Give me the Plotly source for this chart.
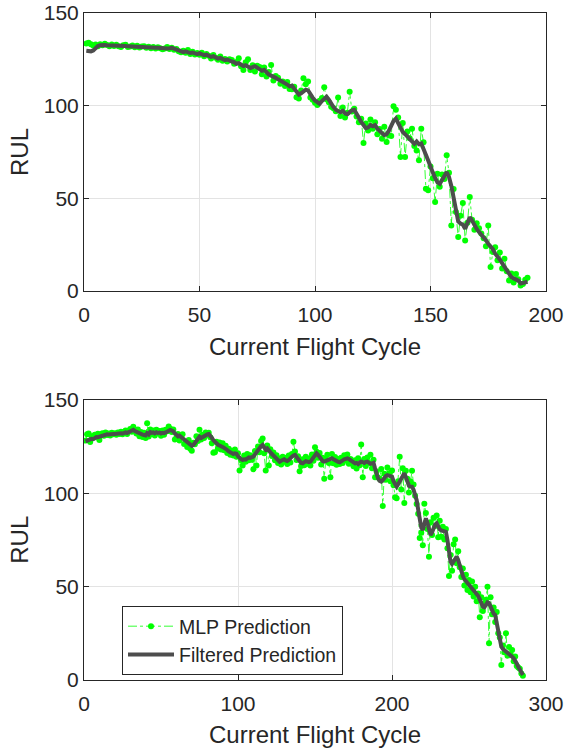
import plotly.graph_objects as go

# ---------------- Data: top panel ----------------
top_filtered = [
    129.6, 129.4, 129.3, 129.8, 131.0, 132.2, 132.6, 132.8, 132.7, 132.6,
    132.6, 132.5, 132.4, 132.5, 132.3, 132.2, 132.1, 132.2, 132.0, 131.9,
    131.9, 131.8, 131.9, 131.7, 131.6, 131.7, 131.5, 131.4, 131.5, 131.3,
    131.2, 131.3, 131.1, 130.8, 130.6, 130.9, 131.0, 131.2, 130.8, 130.3,
    129.8, 129.2, 128.9, 129.3, 129.0, 128.4, 128.7, 128.2, 127.8, 128.3,
    127.9, 127.2, 127.5, 126.8, 126.3, 126.7, 126.0, 125.4, 125.8, 125.1,
    124.6, 124.9, 124.2, 123.8, 123.5, 122.6, 122.9, 122.1, 121.4, 121.8,
    121.0, 120.3, 120.8, 121.3, 120.5, 119.6, 118.8, 119.3, 118.0, 116.8,
    116.2, 115.8, 115.0, 114.2, 113.6, 112.7, 112.0, 111.4, 110.4, 110.8,
    109.2, 107.8, 106.0, 106.7, 107.9, 108.6, 108.2, 106.0, 104.3, 102.8,
    101.6, 101.0, 102.5, 104.0, 104.8, 103.2, 101.0, 99.2, 97.8, 97.0,
    96.5, 97.2, 95.8, 95.4, 96.7, 97.5, 97.8, 96.0, 93.5, 91.2,
    89.4, 87.8, 88.2, 89.6, 88.9, 89.5, 87.6, 86.0, 85.2, 84.1,
    84.6, 86.5, 89.4, 91.8, 93.0, 90.5, 87.4, 85.8, 84.6, 83.2,
    82.0, 80.5, 79.4, 80.7, 79.2, 79.6, 77.0, 73.5, 70.4, 67.8,
    64.0, 61.0, 58.6, 57.8, 59.5, 62.0, 64.2, 61.5, 56.8, 50.5,
    43.0, 37.5, 36.4, 35.8, 33.6, 36.2, 39.8, 38.0, 35.4, 33.5,
    31.8, 30.5, 29.0, 27.4, 25.5, 24.2, 22.6, 20.1, 18.9, 17.0,
    15.0, 13.0, 11.2, 9.0, 7.5, 6.8, 6.2, 5.6, 4.0, 4.2,
    4.8, 5.0,
]
top_mlp = [
    133.5, 134.0, 133.2, 132.4, 133.0, 132.0, 133.1, 132.6, 133.4, 132.8,
    132.1, 133.0, 132.2, 132.9, 132.0, 131.7, 132.6, 132.9, 131.6, 131.9,
    132.4, 131.5, 132.3, 131.4, 131.9, 132.1, 131.2, 131.8, 131.0, 131.6,
    130.8, 131.5, 131.0, 130.4, 130.9, 131.6, 130.6, 131.3, 130.2, 130.6,
    129.4, 128.8, 129.6, 128.6, 130.0, 127.9, 129.1, 127.6, 128.4, 127.5,
    128.5, 126.6, 127.9, 127.0, 125.5, 127.4, 125.8, 124.8, 126.5, 124.2,
    125.2, 123.8, 125.0, 124.6, 122.6, 123.6, 125.6, 121.3, 119.2, 123.4,
    125.0, 119.2, 121.8, 118.4, 121.6, 120.8, 117.0, 120.6, 115.8, 118.2,
    122.0, 113.6, 116.0, 115.0, 111.8, 113.0, 110.6, 112.8, 109.0, 108.8,
    110.2, 104.6, 103.8, 108.2, 114.8, 111.5, 113.0, 104.4, 103.2, 101.6,
    100.4, 102.6, 104.2, 110.0, 103.4, 101.8, 99.4, 98.6, 97.0, 104.4,
    94.4, 99.0, 93.6, 96.2, 107.5, 96.8, 98.4, 94.2, 91.0, 93.0,
    79.9, 90.4, 86.6, 92.6, 87.6, 91.0, 84.6, 87.4, 82.2, 88.6,
    80.4, 84.0, 83.6, 99.7, 97.8, 93.6, 72.3, 90.6, 72.3, 86.0,
    82.4, 87.5, 78.2, 75.8, 70.5, 87.5, 80.2, 55.2, 54.3, 67.2,
    60.8, 48.0, 63.2, 56.2, 62.8, 60.4, 73.2, 63.8, 35.4, 55.0,
    42.6, 29.1, 40.6, 47.5, 27.3, 36.8, 50.7, 38.4, 33.0, 36.6,
    33.8, 31.0, 28.4, 24.2, 35.4, 12.9, 21.0, 23.6, 16.6, 20.8,
    12.2, 17.4, 10.6, 5.7, 9.4, 4.6, 9.2, 6.4, 3.0, 3.8,
    6.1, 7.2,
]
top_cycles = list(range(1, len(top_mlp) + 1))

# ---------------- Data: bottom panel ----------------
bot_filtered = [
    127.8, 128.0, 128.3, 128.9, 129.2, 129.0, 129.5, 130.1, 130.0, 130.3,
    130.8, 131.2, 131.0, 131.4, 131.6, 131.5, 131.7, 131.6, 131.8, 131.7,
    131.9, 131.8, 132.0, 132.2, 132.0, 132.4, 132.6, 132.3, 132.8, 133.2,
    133.6, 134.0, 133.4, 132.9, 132.5, 132.2, 131.8, 131.4, 131.2, 131.0,
    132.2, 131.5, 132.8, 132.4, 132.6, 132.1, 132.7, 132.3, 132.5, 132.0,
    132.4, 132.2, 132.6, 133.0, 133.4, 133.9, 133.6, 133.2, 132.0, 130.8,
    130.5, 130.9, 130.2, 129.4, 128.6, 128.1, 127.6, 126.8, 126.0, 125.4,
    125.9, 127.0, 128.6, 129.8, 130.3, 129.6, 130.2, 130.8, 131.2, 131.5,
    131.7, 131.0, 129.8, 128.4, 127.2, 126.8, 126.0, 125.4, 125.0, 124.8,
    124.3, 124.0, 123.2, 122.4, 121.8, 121.5, 121.0, 121.4, 121.2, 119.8,
    118.8, 118.3, 117.8, 118.2, 118.0, 118.6, 119.2, 118.9, 119.4, 119.6,
    120.8, 122.0, 123.3, 124.6, 125.2, 125.9, 124.2, 123.4, 124.0, 122.8,
    122.3, 121.0, 120.2, 119.4, 118.6, 117.8, 116.9, 117.4, 117.9, 118.2,
    117.6, 117.3, 117.8, 118.9, 119.6, 120.2, 120.5, 119.4, 118.0, 116.8,
    116.2, 116.0, 116.5, 117.2, 116.9, 116.6, 116.9, 118.0, 119.6, 120.8,
    121.4, 120.6, 119.2, 117.8, 117.2, 116.9, 117.3, 117.8, 118.4, 118.6,
    118.7, 118.2, 117.6, 117.0, 116.8, 116.6, 116.9, 117.6, 118.2, 118.5,
    118.7, 118.3, 117.7, 117.0, 116.5, 116.0, 116.2, 115.6, 116.4, 117.0,
    116.6, 116.2, 116.8, 116.9, 116.4, 115.8, 116.0, 116.3, 113.3, 110.0,
    107.8, 106.6, 106.2, 107.0, 108.4, 109.2, 109.7, 109.5, 108.9, 108.9,
    106.4, 104.2, 103.5, 104.8, 106.5, 108.4, 110.2, 110.7, 108.6, 105.4,
    104.0, 103.6, 103.5, 101.8, 99.4, 96.3, 91.2, 86.0, 81.6, 80.2,
    83.4, 86.5, 84.2, 80.6, 77.5, 79.0, 81.4, 83.2, 83.8, 82.0,
    80.6, 80.0, 79.6, 79.4, 79.3, 74.8, 68.6, 63.2, 62.0, 63.4,
    65.2, 66.0, 64.1, 61.0, 58.2, 55.6, 53.8, 52.8, 51.6, 51.0,
    50.2, 49.0, 48.0, 47.1, 46.3, 44.8, 43.0, 41.2, 39.1, 38.8,
    40.2, 41.4, 41.0, 38.6, 36.8, 35.4, 34.6, 30.0, 25.2, 21.0,
    17.6, 16.4, 15.8, 15.0, 14.2, 13.6, 12.8, 12.2, 11.4, 10.4,
    8.6, 6.8, 5.0, 3.6, 2.4,
]
bot_mlp = [
    128.2, 131.6, 132.0, 127.4, 130.6, 129.8, 131.4, 130.0, 131.9, 128.6,
    131.6, 132.2, 130.8, 132.6, 131.2, 132.0, 131.0, 132.4, 131.6, 132.2,
    131.4, 132.6, 131.8, 133.0, 131.6, 132.8, 133.6, 131.8, 133.4, 134.4,
    133.0, 135.6, 133.4, 132.0, 134.2, 130.6, 132.8, 130.2, 132.4, 129.6,
    137.5, 130.4, 134.2, 131.8, 133.6, 131.0, 134.0, 132.2, 133.4, 130.8,
    133.6, 131.4, 134.0, 133.2, 135.8, 134.6, 132.8, 134.2, 128.8, 129.6,
    131.8, 128.2, 130.4, 131.6, 126.4, 127.2, 124.8, 128.6, 123.9, 122.8,
    127.0, 126.2, 130.6, 128.0, 134.1, 128.8, 131.4, 129.6, 132.6, 131.2,
    132.4, 130.0, 126.8, 121.7, 121.9, 127.6, 124.0, 127.2, 123.4, 126.8,
    123.0, 125.4, 121.6, 123.8, 120.6, 122.8, 120.2, 123.4, 119.6, 121.4,
    112.1, 117.6, 114.8, 120.2, 116.8, 121.0, 117.6, 120.4, 118.0, 112.8,
    122.6, 114.8, 125.0, 122.0, 128.0, 129.4, 121.4, 112.1, 125.6, 114.8,
    123.6, 120.0, 121.8, 117.6, 120.4, 116.2, 118.6, 115.4, 119.6, 116.8,
    119.0, 115.6, 120.2, 116.4, 121.0, 127.6, 122.4, 117.8, 119.8, 111.7,
    114.6, 118.2, 115.0, 119.6, 115.8, 118.6, 114.8, 120.8, 117.4, 124.6,
    122.2, 119.0, 121.6, 115.4, 119.0, 107.7, 118.4, 120.6, 116.2, 108.6,
    121.0, 116.0, 119.4, 115.2, 118.4, 115.6, 119.0, 116.2, 120.4, 117.6,
    120.8, 115.8, 118.4, 116.2, 114.4, 117.6, 113.2, 118.8, 115.0, 126.1,
    108.6, 118.4, 114.6, 119.2, 116.2, 120.6, 113.4, 118.0, 108.6, 111.6,
    108.4, 107.6, 113.0, 93.1, 110.4, 107.2, 113.8, 110.6, 106.4, 112.2,
    104.2, 97.8, 97.3, 106.4, 119.6, 102.0, 113.4, 94.7, 112.0, 107.8,
    100.4, 106.2, 112.0, 104.6, 98.6, 94.2, 89.0, 76.0, 78.8, 72.0,
    94.3, 89.4, 80.8, 65.9, 84.4, 77.6, 86.8, 82.4, 88.0, 76.4,
    85.2, 76.6, 82.0, 75.2, 80.8, 70.4, 55.6, 66.8, 58.4, 72.6,
    75.2, 62.4, 68.8, 60.2, 55.0, 59.6, 50.4, 56.2, 48.0, 53.4,
    46.8, 52.6, 44.6, 49.8, 42.0, 46.2, 33.4, 44.2, 36.8, 40.6,
    42.8, 49.8, 19.4, 44.2, 35.0, 38.6, 30.8, 36.2, 24.8, 22.6,
    7.8, 18.2, 14.6, 24.8, 12.8, 17.4, 13.6, 15.8, 9.8, 12.4,
    7.2, 6.4, 5.8, 3.2, 2.0,
]
bot_cycles = list(range(1, len(bot_mlp) + 1))

top_xticks = [0, 50, 100, 150, 200]
bot_xticks = [0, 100, 200, 300]
yticks = [0, 50, 100, 150]

GREEN = "#00ff00"
GRAY = "#4d4d4d"
TXT = "#262626"
FONT = "Liberation Sans, Arial, sans-serif"

fig = go.Figure()

def add_panel(cycles, mlp, filt, xa, ya, show):
    fig.add_trace(go.Scatter(
        x=cycles, y=mlp, mode="lines+markers", name="MLP Prediction",
        line=dict(color=GREEN, width=0.8, dash="dashdot"),
        marker=dict(color=GREEN, size=6),
        xaxis=xa, yaxis=ya, showlegend=show))
    fig.add_trace(go.Scatter(
        x=cycles, y=filt, mode="lines", name="Filtered Prediction",
        line=dict(color=GRAY, width=4),
        xaxis=xa, yaxis=ya, showlegend=show))

add_panel(top_cycles, top_mlp, top_filtered, "x", "y", False)
add_panel(bot_cycles, bot_mlp, bot_filtered, "x2", "y2", True)

W, H = 564, 750
xdom = [84 / W, 546 / W]
top_dom = [1 - 291 / H, 1 - 13 / H]
bot_dom = [1 - 679.5 / H, 1 - 400 / H]

axis_common = dict(
    showline=True, linecolor=TXT, linewidth=1, mirror="ticks",
    ticks="inside", ticklen=5, tickcolor=TXT,
    showgrid=True, gridcolor="#e3e3e3", gridwidth=1,
    zeroline=False, automargin=False,
    tickfont=dict(family=FONT, size=21, color=TXT),
)
title_font = dict(family=FONT, size=24, color=TXT)

fig.update_layout(
    width=W, height=H,
    margin=dict(l=0, r=0, t=0, b=0),
    paper_bgcolor="white", plot_bgcolor="white",
    font=dict(family=FONT, color=TXT),
    xaxis=dict(domain=xdom, anchor="y", range=[0, 200], tickvals=top_xticks,
               ticklabelstandoff=5,
               title=dict(text="Current Flight Cycle", font=title_font, standoff=12),
               **axis_common),
    yaxis=dict(domain=top_dom, anchor="x", range=[0, 150], tickvals=yticks,
               title=dict(text="RUL", font=title_font, standoff=8),
               **axis_common),
    xaxis2=dict(domain=xdom, anchor="y2", range=[0, 300], tickvals=bot_xticks,
                ticklabelstandoff=5,
                title=dict(text="Current Flight Cycle", font=title_font, standoff=12),
                **axis_common),
    yaxis2=dict(domain=bot_dom, anchor="x2", range=[0, 150], tickvals=yticks,
                title=dict(text="RUL", font=title_font, standoff=8),
                **axis_common),
    legend=dict(
        x=122 / W, y=1 - 606 / H, xanchor="left", yanchor="top",
        bgcolor="white", bordercolor=TXT, borderwidth=1,
        font=dict(family=FONT, size=19.5, color=TXT),
        itemwidth=46, tracegroupgap=0,
    ),
)

fig.write_html("out.html")
